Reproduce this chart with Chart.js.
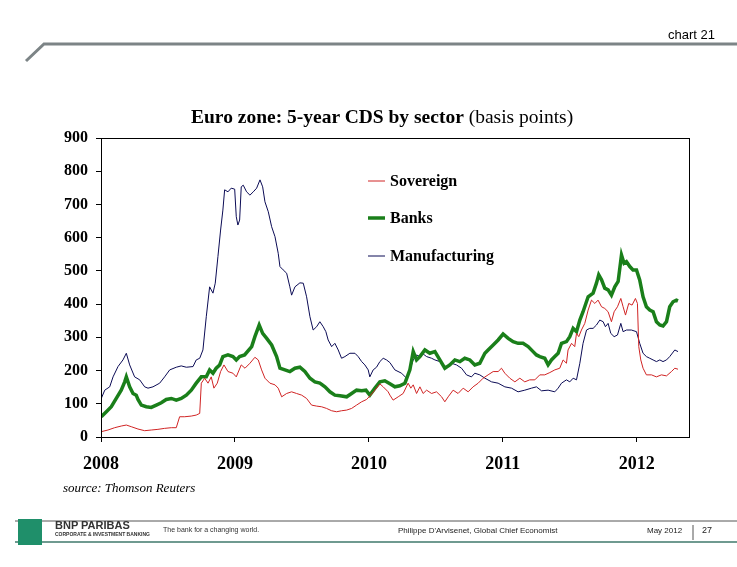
<!DOCTYPE html>
<html>
<head>
<meta charset="utf-8">
<script src="https://cdn.jsdelivr.net/npm/chart.js@4.4.1/dist/chart.umd.min.js"></script>
<style>
  body { margin: 0; background: #fff; }
  #page { position: relative; width: 737px; height: 567px; overflow: hidden; background: #fff; }
  #cds { position: absolute; left: 0; top: 0; }
  .txt { position: absolute; white-space: nowrap; color: #000; }
  .serif { font-family: "Liberation Serif", "Times New Roman", serif; }
  .narrow { font-family: "Liberation Sans Narrow", "Arial Narrow", "Liberation Sans", sans-serif; }
</style>
</head>
<body>
<div id="page">
  <canvas id="cds" width="737" height="567"></canvas>

  <!-- header -->
  <div class="txt narrow" style="left:668px; top:27px; font-size:13px;">chart 21</div>
  <svg style="position:absolute; left:0; top:0;" width="737" height="70">
    <polyline points="26,61 44,44 737,44" fill="none" stroke="#7c8486" stroke-width="3"/>
  </svg>

  <!-- title -->
  <div class="txt serif" style="left:191px; top:106px; font-size:19.5px;"><b>Euro zone: 5-year CDS by sector</b> (basis points)</div>

  <!-- source -->
  <div class="txt serif" style="left:63px; top:480px; font-size:13px; font-style:italic;">source: Thomson Reuters</div>

  <!-- footer -->
  <svg style="position:absolute; left:0; top:510px;" width="737" height="50">
    <line x1="15" y1="11" x2="737" y2="11" stroke="#555" stroke-width="1"/>
    <line x1="15" y1="32" x2="737" y2="32" stroke="#6f9a90" stroke-width="2"/>
    <rect x="18" y="9" width="24" height="26" fill="#1f8f6a"/>
    <line x1="693" y1="15" x2="693" y2="30" stroke="#555" stroke-width="1"/>
  </svg>
  <div class="txt narrow" style="left:55px; top:519px; font-size:11px; font-weight:bold; color:#333;">BNP PARIBAS</div>
  <div class="txt narrow" style="left:55px; top:531px; font-size:5px; font-weight:bold; color:#333;">CORPORATE &amp; INVESTMENT BANKING</div>
  <div class="txt narrow" style="left:163px; top:526px; font-size:7px; color:#333;">The bank for a changing world.</div>
  <div class="txt narrow" style="left:398px; top:526px; font-size:8px; color:#222;">Philippe D'Arvisenet, Global Chief Economist</div>
  <div class="txt narrow" style="left:647px; top:526px; font-size:8px; color:#222;">May 2012</div>
  <div class="txt narrow" style="left:702px; top:525px; font-size:9px; color:#222;">27</div>
</div>

<script>
// x positions are decimal years
const yearTicks = [2008, 2009, 2010, 2011, 2012]

const sovereignDates = [2008.002,2008.052,2008.102,2008.151,2008.189,2008.226,2008.276,2008.326,2008.375,2008.425,2008.475,2008.525,2008.562,2008.587,2008.625,2008.674,2008.711,2008.737,2008.749,2008.774,2008.799,2008.823,2008.843,2008.868,2008.893,2008.918,2008.948,2008.985,2009.010,2009.047,2009.075,2009.112,2009.149,2009.174,2009.199,2009.224,2009.261,2009.299,2009.323,2009.349,2009.386,2009.423,2009.460,2009.498,2009.535,2009.572,2009.610,2009.647,2009.684,2009.722,2009.759,2009.796,2009.834,2009.871,2009.908,2009.946,2009.983,2010.013,2010.045,2010.082,2010.107,2010.144,2010.157,2010.181,2010.219,2010.256,2010.293,2010.313,2010.331,2010.356,2010.381,2010.405,2010.431,2010.468,2010.505,2010.543,2010.567,2010.592,2010.629,2010.666,2010.704,2010.741,2010.778,2010.816,2010.853,2010.890,2010.928,2010.965,2010.990,2011.015,2011.052,2011.090,2011.127,2011.164,2011.201,2011.239,2011.276,2011.313,2011.351,2011.388,2011.425,2011.450,2011.475,2011.487,2011.513,2011.537,2011.550,2011.567,2011.587,2011.612,2011.637,2011.662,2011.687,2011.711,2011.737,2011.761,2011.786,2011.811,2011.831,2011.856,2011.881,2011.898,2011.916,2011.940,2011.965,2011.990,2012.005,2012.015,2012.030,2012.047,2012.072,2012.110,2012.147,2012.184,2012.222,2012.259,2012.284,2012.308]
const sovereign = [16,21,28,33,36,31,24,19,21,23,26,28,28,61,61,63,66,71,162,177,162,181,147,162,197,217,197,192,181,217,207,222,240,232,202,177,162,157,147,121,131,136,131,126,116,96,93,91,86,79,76,79,81,86,96,106,113,126,141,160,151,136,126,111,121,131,162,147,157,131,151,131,141,131,136,121,106,121,141,131,147,136,151,162,177,187,197,197,207,192,177,166,177,166,172,172,187,187,194,202,207,232,222,262,282,272,312,302,322,342,382,412,402,412,392,387,377,347,377,392,417,392,367,402,397,417,402,272,232,207,187,187,181,187,184,197,207,204]

const banksDates = [2008.002,2008.040,2008.077,2008.114,2008.151,2008.177,2008.189,2008.214,2008.239,2008.263,2008.276,2008.301,2008.338,2008.375,2008.413,2008.450,2008.487,2008.525,2008.562,2008.599,2008.637,2008.674,2008.711,2008.749,2008.786,2008.811,2008.836,2008.860,2008.886,2008.910,2008.948,2008.985,2009.010,2009.035,2009.072,2009.125,2009.149,2009.181,2009.207,2009.237,2009.274,2009.311,2009.336,2009.373,2009.410,2009.448,2009.485,2009.522,2009.560,2009.597,2009.634,2009.672,2009.709,2009.746,2009.784,2009.834,2009.871,2009.908,2009.946,2009.978,2010.007,2010.045,2010.082,2010.119,2010.157,2010.194,2010.231,2010.269,2010.306,2010.331,2010.356,2010.381,2010.418,2010.455,2010.493,2010.530,2010.567,2010.604,2010.642,2010.679,2010.716,2010.754,2010.791,2010.828,2010.866,2010.890,2010.928,2010.965,2011.002,2011.040,2011.077,2011.114,2011.151,2011.189,2011.226,2011.251,2011.276,2011.313,2011.338,2011.363,2011.388,2011.413,2011.438,2011.475,2011.500,2011.525,2011.550,2011.575,2011.599,2011.637,2011.674,2011.699,2011.716,2011.737,2011.761,2011.786,2011.811,2011.836,2011.861,2011.886,2011.905,2011.923,2011.948,2011.972,2011.998,2012.022,2012.047,2012.072,2012.097,2012.122,2012.147,2012.172,2012.196,2012.222,2012.246,2012.271,2012.296,2012.308]
const banks = [61,76,91,116,141,166,181,151,131,126,113,96,91,89,96,103,113,116,111,116,126,141,162,181,181,202,192,207,217,242,247,242,232,242,247,272,302,337,312,297,277,242,207,202,197,207,210,197,177,166,162,151,136,126,124,121,131,141,139,141,126,147,166,169,160,151,154,162,202,257,232,242,262,252,257,232,207,217,232,227,237,232,217,222,252,262,277,292,310,297,287,282,282,272,257,247,242,237,217,232,242,252,282,287,302,327,317,352,377,422,433,463,488,473,448,443,427,452,468,548,523,528,513,503,503,473,422,392,382,377,347,337,334,347,392,407,412,410]

const manufacturingDates = [2008.002,2008.028,2008.065,2008.090,2008.127,2008.164,2008.189,2008.214,2008.251,2008.289,2008.326,2008.351,2008.388,2008.438,2008.475,2008.513,2008.562,2008.599,2008.637,2008.687,2008.711,2008.737,2008.761,2008.786,2008.811,2008.836,2008.853,2008.873,2008.893,2008.910,2008.923,2008.948,2008.972,2008.998,2009.010,2009.022,2009.035,2009.047,2009.062,2009.087,2009.112,2009.137,2009.162,2009.187,2009.207,2009.224,2009.249,2009.274,2009.299,2009.323,2009.336,2009.360,2009.386,2009.410,2009.423,2009.448,2009.485,2009.510,2009.535,2009.560,2009.584,2009.610,2009.634,2009.659,2009.679,2009.696,2009.722,2009.746,2009.771,2009.796,2009.821,2009.858,2009.896,2009.920,2009.946,2009.970,2009.995,2010.007,2010.032,2010.057,2010.082,2010.107,2010.132,2010.157,2010.194,2010.244,2010.281,2010.306,2010.331,2010.356,2010.381,2010.405,2010.431,2010.468,2010.493,2010.530,2010.567,2010.592,2010.617,2010.654,2010.692,2010.729,2010.766,2010.791,2010.828,2010.866,2010.916,2010.965,2011.015,2011.065,2011.114,2011.164,2011.214,2011.251,2011.289,2011.338,2011.388,2011.413,2011.438,2011.475,2011.500,2011.525,2011.550,2011.575,2011.599,2011.625,2011.649,2011.674,2011.699,2011.724,2011.749,2011.766,2011.786,2011.806,2011.831,2011.856,2011.881,2011.898,2011.923,2011.960,2011.998,2012.022,2012.047,2012.072,2012.097,2012.122,2012.147,2012.172,2012.196,2012.222,2012.246,2012.284,2012.308]
const manufacturing = [116,141,151,181,212,232,252,217,181,172,151,147,151,162,181,202,210,214,210,212,232,237,262,362,452,433,463,543,623,683,744,738,749,746,663,638,653,753,758,738,728,738,749,774,753,708,678,633,603,553,513,503,493,452,427,452,464,463,422,362,322,332,347,332,317,292,272,282,262,237,242,252,252,242,227,217,202,181,202,210,227,237,232,224,202,192,177,202,232,247,242,250,242,237,232,227,207,217,222,217,207,187,181,192,187,177,166,162,151,147,136,141,147,151,139,141,136,147,162,172,166,177,172,222,282,322,327,327,337,352,347,332,342,312,302,307,342,317,322,322,317,282,252,242,237,232,227,232,227,232,242,262,257]

function toPoints(dates, values) {
  return dates.map((d, i) => ({ x: d, y: values[i] }))
}

// legend drawn inside the plot, one entry per line
const insideLegend = {
  id: 'insideLegend',
  afterDatasetsDraw(chart) {
    const ctx = chart.ctx
    const rows = [181, 218, 256]
    ctx.save()
    chart.data.datasets.forEach((ds, i) => {
      const y = rows[i]
      ctx.strokeStyle = ds.borderColor
      ctx.lineWidth = ds.borderWidth
      ctx.beginPath()
      ctx.moveTo(368, y)
      ctx.lineTo(385, y)
      ctx.stroke()
      ctx.fillStyle = '#000'
      ctx.font = 'bold 16px "Liberation Serif", "Times New Roman", serif'
      ctx.textBaseline = 'middle'
      ctx.fillText(ds.label, 390, y + 1)
    })
    ctx.restore()
  }
}

// black frame round the plot area
const plotFrame = {
  id: 'plotFrame',
  afterDraw(chart) {
    const a = chart.chartArea
    const ctx = chart.ctx
    ctx.save()
    ctx.strokeStyle = '#000'
    ctx.lineWidth = 1
    ctx.strokeRect(a.left + 0.5, a.top + 0.5, a.right - a.left, a.bottom - a.top)
    ctx.restore()
  }
}

new Chart(document.getElementById('cds'), {
  type: 'line',
  data: {
    datasets: [
      {
        label: 'Sovereign',
        data: toPoints(sovereignDates, sovereign),
        borderColor: '#d02424',
        borderWidth: 1,
        pointRadius: 0,
        tension: 0
      },
      {
        label: 'Banks',
        data: toPoints(banksDates, banks),
        borderColor: '#1a7f1a',
        borderWidth: 3.5,
        pointRadius: 0,
        tension: 0
      },
      {
        label: 'Manufacturing',
        data: toPoints(manufacturingDates, manufacturing),
        borderColor: '#0b0b55',
        borderWidth: 1,
        pointRadius: 0,
        tension: 0
      }
    ]
  },
  options: {
    responsive: false,
    animation: false,
    events: [],
    layout: { padding: { left: 0, top: 138, right: 48, bottom: 80 } },
    plugins: {
      legend: { display: false },
      title: { display: false },
      tooltip: { enabled: false }
    },
    scales: {
      x: {
        type: 'linear',
        min: 2008,
        max: 2012.39,
        afterBuildTicks: (scale) => { scale.ticks = yearTicks.map(v => ({ value: v })) },
        afterFit: (scale) => { scale.height = 50 },
        border: { display: false },
        grid: { drawOnChartArea: false, drawTicks: true, tickLength: 5, color: '#000' },
        ticks: {
          color: '#000',
          padding: 12,
          maxRotation: 0,
          font: { family: '"Liberation Serif", "Times New Roman", serif', size: 18, weight: 'bold' },
          callback: (v) => String(v)
        }
      },
      y: {
        min: 0,
        max: 900,
        afterFit: (scale) => { scale.width = 101 },
        border: { display: false },
        grid: { drawOnChartArea: false, drawTicks: true, tickLength: 5, color: '#000' },
        ticks: {
          stepSize: 100,
          color: '#000',
          padding: 8,
          font: { family: '"Liberation Serif", "Times New Roman", serif', size: 16, weight: 'bold' }
        }
      }
    }
  },
  plugins: [insideLegend, plotFrame]
})
</script>
</body>
</html>
